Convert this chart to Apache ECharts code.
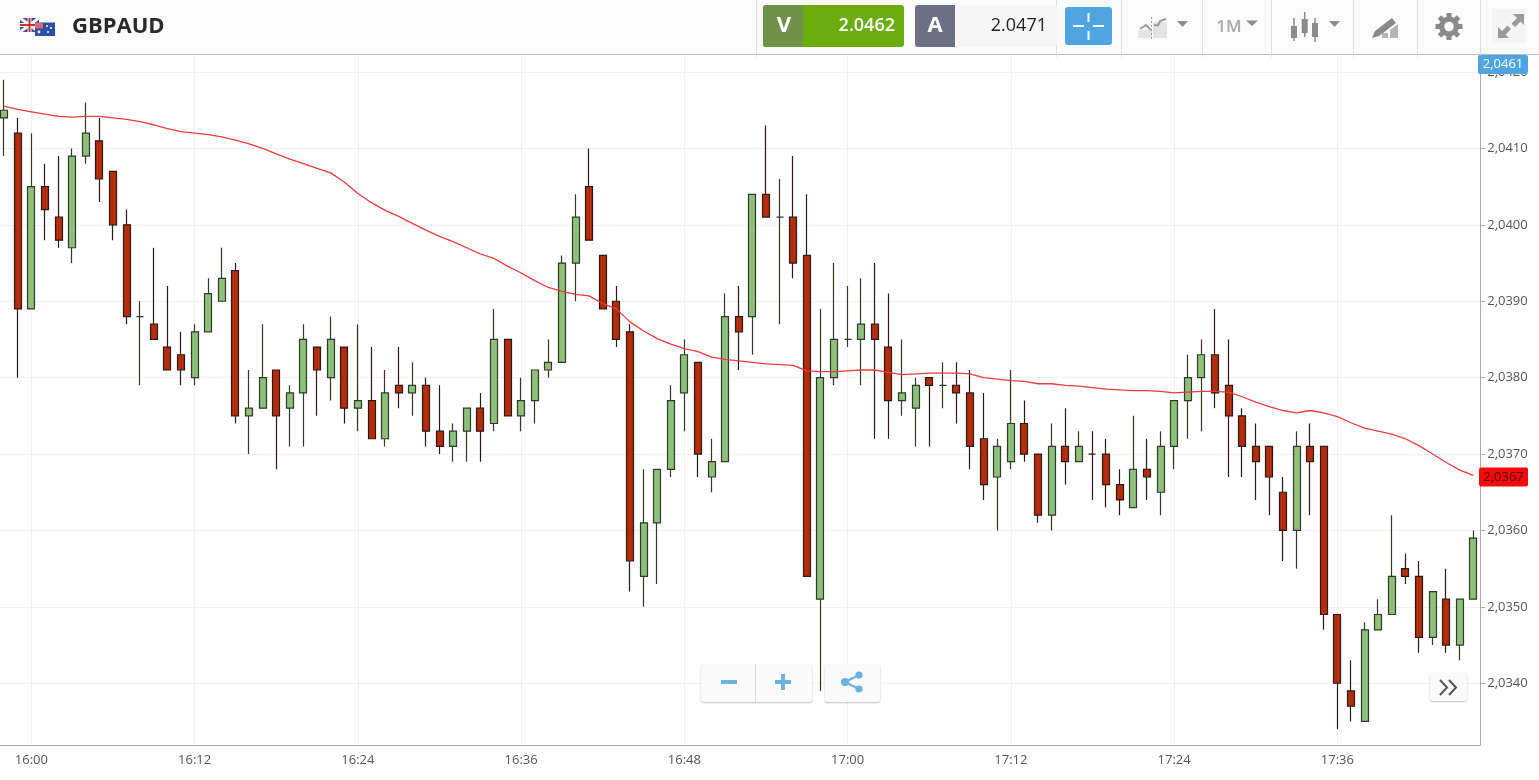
<!DOCTYPE html>
<html><head><meta charset="utf-8">
<style>html,body{margin:0;padding:0;background:#fff;overflow:hidden}#c{width:1539px;height:780px}</style>
<script src="https://cdn.jsdelivr.net/npm/echarts@6/dist/echarts.min.js"></script>
</head><body><div id="c"></div>
<script>
const categories = [
'15:58','15:59','16:00','16:01','16:02','16:03','16:04','16:05','16:06','16:07','16:08','16:09','16:10','16:11','16:12','16:13','16:14','16:15','16:16','16:17','16:18','16:19','16:20','16:21','16:22','16:23','16:24','16:25','16:26','16:27','16:28','16:29','16:30','16:31','16:32','16:33','16:34','16:35','16:36','16:37','16:38','16:39','16:40','16:41','16:42','16:43','16:44','16:45','16:46','16:47','16:48','16:49','16:50','16:51','16:52','16:53','16:54','16:55','16:56','16:57','16:58','16:59','17:00','17:01','17:02','17:03','17:04','17:05','17:06','17:07','17:08','17:09','17:10','17:11','17:12','17:13','17:14','17:15','17:16','17:17','17:18','17:19','17:20','17:21','17:22','17:23','17:24','17:25','17:26','17:27','17:28','17:29','17:30','17:31','17:32','17:33','17:34','17:35','17:36','17:37','17:38','17:39','17:40','17:41','17:42','17:43','17:44','17:45','17:46'];
const opens = [
2.0414,2.0412,2.0389,2.0405,2.0401,2.0397,2.0409,2.0411,2.0407,2.0400,
2.0388,2.0387,2.0384,2.0383,2.0380,2.0386,2.0390,2.0394,2.0375,2.0376,
2.0381,2.0376,2.0378,2.0384,2.0380,2.0384,2.0376,2.0377,2.0372,2.0379,
2.0378,2.0379,2.0373,2.0371,2.0373,2.0376,2.0374,2.0385,2.0375,2.0377,
2.0381,2.0382,2.0395,2.0405,2.0396,2.0390,2.0386,2.0354,2.0361,2.0368,
2.0378,2.0382,2.0367,2.0369,2.0388,2.0388,2.0404,2.0401,2.0401,2.0396,
2.0351,2.0380,2.0385,2.0385,2.0387,2.0384,2.0377,2.0376,2.0380,2.0379,
2.0379,2.0378,2.0372,2.0367,2.0369,2.0374,2.0370,2.0362,2.0371,2.0369,
2.0370,2.0370,2.0366,2.0363,2.0368,2.0365,2.0371,2.0377,2.0380,2.0383,
2.0379,2.0375,2.0371,2.0371,2.0365,2.0360,2.0371,2.0371,2.0349,2.0339,
2.0335,2.0347,2.0349,2.0355,2.0354,2.0346,2.0351,2.0345,2.0351];
const closes = [
2.0415,2.0389,2.0405,2.0402,2.0398,2.0409,2.0412,2.0406,2.0400,2.0388,
2.0388,2.0385,2.0381,2.0381,2.0386,2.0391,2.0393,2.0375,2.0376,2.0380,
2.0375,2.0378,2.0385,2.0381,2.0385,2.0376,2.0377,2.0372,2.0378,2.0378,
2.0379,2.0373,2.0371,2.0373,2.0376,2.0373,2.0385,2.0375,2.0377,2.0381,
2.0382,2.0395,2.0401,2.0398,2.0389,2.0385,2.0356,2.0361,2.0368,2.0377,
2.0383,2.0370,2.0369,2.0388,2.0386,2.0404,2.0401,2.0401,2.0395,2.0354,
2.0380,2.0385,2.0385,2.0387,2.0385,2.0377,2.0378,2.0379,2.0379,2.0379,
2.0378,2.0371,2.0366,2.0371,2.0374,2.0370,2.0362,2.0371,2.0369,2.0371,
2.0370,2.0366,2.0364,2.0368,2.0367,2.0371,2.0377,2.0380,2.0383,2.0378,
2.0375,2.0371,2.0369,2.0367,2.0360,2.0371,2.0369,2.0349,2.0340,2.0337,
2.0347,2.0349,2.0354,2.0354,2.0346,2.0352,2.0345,2.0351,2.0359];
const lows = [
2.0409,2.0380,2.0389,2.0398,2.0397,2.0395,2.0408,2.0403,2.0398,2.0387,
2.0379,2.0385,2.0381,2.0379,2.0379,2.0386,2.0390,2.0374,2.0370,2.0376,
2.0368,2.0371,2.0371,2.0375,2.0377,2.0374,2.0373,2.0372,2.0371,2.0376,
2.0375,2.0371,2.0370,2.0369,2.0369,2.0369,2.0373,2.0375,2.0373,2.0374,
2.0380,2.0382,2.0390,2.0398,2.0389,2.0384,2.0352,2.0350,2.0353,2.0367,
2.0373,2.0367,2.0365,2.0369,2.0381,2.0383,2.0401,2.0387,2.0393,2.0354,
2.0339,2.0379,2.0384,2.0379,2.0372,2.0372,2.0375,2.0371,2.0371,2.0376,
2.0374,2.0368,2.0364,2.0360,2.0368,2.0369,2.0361,2.0360,2.0366,2.0369,
2.0364,2.0363,2.0362,2.0363,2.0364,2.0362,2.0368,2.0372,2.0373,2.0376,
2.0367,2.0367,2.0364,2.0362,2.0356,2.0355,2.0362,2.0347,2.0334,2.0335,
2.0335,2.0347,2.0349,2.0353,2.0344,2.0345,2.0344,2.0343,2.0351];
const highs = [
2.0419,2.0414,2.0412,2.0408,2.0409,2.0410,2.0416,2.0414,2.0407,2.0402,
2.0390,2.0397,2.0392,2.0386,2.0387,2.0393,2.0397,2.0395,2.0381,2.0387,
2.0381,2.0379,2.0387,2.0384,2.0388,2.0384,2.0387,2.0384,2.0381,2.0384,
2.0382,2.0380,2.0379,2.0374,2.0376,2.0378,2.0389,2.0385,2.0380,2.0381,
2.0385,2.0396,2.0404,2.0410,2.0396,2.0392,2.0387,2.0368,2.0368,2.0379,
2.0385,2.0382,2.0372,2.0391,2.0392,2.0404,2.0413,2.0406,2.0409,2.0404,
2.0389,2.0395,2.0392,2.0393,2.0395,2.0391,2.0385,2.0380,2.0380,2.0382,
2.0382,2.0381,2.0378,2.0372,2.0381,2.0377,2.0370,2.0374,2.0376,2.0373,
2.0373,2.0372,2.0368,2.0375,2.0372,2.0373,2.0377,2.0383,2.0385,2.0389,
2.0385,2.0376,2.0374,2.0371,2.0367,2.0373,2.0374,2.0371,2.0349,2.0343,
2.0348,2.0351,2.0362,2.0357,2.0356,2.0352,2.0355,2.0351,2.0360];
const movingAverage = [
2.04155,2.04151,2.04148,2.04145,2.04142,2.04141,2.04142,2.04142,2.04140,2.04138,
2.04135,2.04131,2.04126,2.04122,2.04120,2.04118,2.04115,2.04111,2.04106,2.04100,
2.04093,2.04086,2.04080,2.04074,2.04068,2.04056,2.04041,2.04029,2.04019,2.04011,
2.04002,2.03993,2.03985,2.03978,2.03970,2.03962,2.03956,2.03946,2.03937,2.03927,
2.03918,2.03913,2.03909,2.03907,2.03897,2.03890,2.03873,2.03861,2.03851,2.03844,
2.03838,2.03834,2.03827,2.03824,2.03822,2.03820,2.03818,2.03817,2.03816,2.03809,
2.03808,2.03808,2.03809,2.03810,2.03810,2.03807,2.03804,2.03805,2.03806,2.03806,
2.03806,2.03805,2.03800,2.03798,2.03796,2.03795,2.03792,2.03792,2.03790,2.03789,
2.03787,2.03785,2.03784,2.03783,2.03783,2.03782,2.03780,2.03781,2.03782,2.03782,
2.03781,2.03775,2.03768,2.03762,2.03757,2.03754,2.03757,2.03754,2.03749,2.03741,
2.03734,2.03730,2.03726,2.03720,2.03711,2.03700,2.03689,2.03679,2.03672];
const yTicks = [2.0340,2.0350,2.0360,2.0370,2.0380,2.0390,2.0400,2.0410,2.0420];
const askPrice = '2.0471', bidPrice = '2.0462', topTag = '2,0461', lastMa = 2.0367;
const symbol = 'GBPAUD';

const candleData = categories.map((_, i) => [opens[i], closes[i], lows[i], highs[i]]);
const tickEvery = idx => (idx - 2) % 12 === 0 && idx >= 2;
const font = '"Open Sans", sans-serif';

const Z = 100;
const R = (x, y, w, h, fill, r, extra) => Object.assign({type:'rect', z:Z, silent:true, shape:{x, y, width:w, height:h, r:r||0}, style:{fill}}, extra||{});
const L = (x1, y1, x2, y2, stroke, lw, dash) => ({type:'line', z:Z, silent:true, shape:{x1, y1, x2, y2}, style:{stroke, lineWidth:lw||1, lineDash:dash||null}});
const P = (points, fill) => ({type:'polygon', z:Z, silent:true, shape:{points}, style:{fill}});
const PL = (points, stroke, lw) => ({type:'polyline', z:Z, silent:true, shape:{points}, style:{stroke, lineWidth:lw||1, fill:'none'}});
const C = (cx, cy, r, fill) => ({type:'circle', z:Z, silent:true, shape:{cx, cy, r}, style:{fill}});
const T = (x, y, text, fill, size, weight, align) => ({type:'text', z:Z+1, silent:true, x, y, style:{text, fill, font:(weight||400)+' '+size+'px '+font, textAlign:align||'left', textVerticalAlign:'middle'}});

const shadow = {shadowBlur:2, shadowColor:'rgba(0,0,0,0.25)', shadowOffsetY:1};
const btn = (x, y, w, h) => ({type:'rect', z:Z-1, silent:true, shape:{x, y, width:w, height:h, r:3}, style:Object.assign({fill:'#fafafa'}, shadow)});

const gearTeeth = [0,1,2,3,4,5,6,7].map(k => ({type:'rect', z:Z, silent:true, x:1449, y:26.5, rotation:k*Math.PI/4, shape:{x:-2.5, y:-13.5, width:5, height:6}, style:{fill:'#8a8a8a'}}));

const chrome = [
  R(0,0,1539,54,'#fbfbfb'),
  R(0,54,1539,1,'#bdbdbd'),
  ...[756,1056,1121,1202,1271,1353,1417,1480].map(x => L(x+.5,0,x+.5,57,'#dedede')),
  // flags
  R(20,18,19,14,'#3d4f8f'),
  PL([[20,18],[39,32]],'#f2f2f2',3), PL([[39,18],[20,32]],'#f2f2f2',3),
  R(27.5,18,4,14,'#f2f2f2'), R(20,23,19,4,'#f2f2f2'),
  R(28.5,18,2,14,'#c8303a'), R(20,24,19,2,'#c8303a'),
  R(35,22.5,20,13.5,'#2b4fa5'),
  R(35,22.5,8,6,'#d76a78'), C(39,32,1.4,'#fff'), C(47,26,1,'#fff'), C(51,28,1,'#fff'), C(48,32,1,'#fff'),
  T(72,27,symbol,'#2a2a2a',22,700),
  // bid
  R(763,5,141,42,'#6bad0f',3), R(763,5,40,42,'#6f9249',3), R(798,5,5,42,'#6f9249'),
  T(784,26,'V','#fff',22,700,'center'), T(895,25.5,bidPrice,'#fff',18,600,'right'),
  // ask
  R(915,5,142,42,'#f6f6f6',3), R(915,5,40,42,'#6b7086',3), R(950,5,5,42,'#6b7086'),
  T(935,26,'A','#fff',22,700,'center'), T(1047,25.5,askPrice,'#222',18,400,'right'),
  // crosshair button
  R(1065,7,47,38,'#4ea5e0',3),
  L(1073,26,1084,26,'#fff',2), L(1093,26,1104,26,'#fff',2), L(1088.5,13,1088.5,22,'#fff',2), L(1088.5,31,1088.5,40,'#fff',2),
  // chart type icon
  R(1138,30,14,8,'#e4e4e4'), R(1153,22,14,16,'#e4e4e4'),
  PL([[1140,29],[1146,25],[1151,30]],'#9a9a9a',2), PL([[1154,25],[1158,25.5],[1160,21],[1166,19]],'#9a9a9a',2),
  L(1151.5,17,1151.5,40,'#9a9a9a',1,[2,2]),
  P([[1177,21],[1188,21],[1182.5,27]],'#8d8d8d'),
  // interval
  T(1229,27,'1M','#a8a8a8',17,600,'center'),
  P([[1246,20.5],[1258,20.5],[1252,26]],'#8d8d8d'),
  // candle icon
  L(1294,18,1294,41,'#8a8a8a',1.5), R(1291,26,6,12,'#8a8a8a'),
  L(1304.7,12,1304.7,37,'#8a8a8a',1.5), R(1301.7,19,6,14,'#8a8a8a'),
  L(1315,18,1315,42,'#8a8a8a',1.5), R(1312,23,6,14,'#8a8a8a'),
  P([[1329,21],[1340,21],[1334.5,27]],'#8d8d8d'),
  // pencil icon
  P([[1375,31],[1392,18],[1396,23],[1379,36],[1372,38]],'#8a8a8a'),
  R(1382,33,6,5,'#b4b4b4'), P([[1390,38],[1390,30],[1398,24],[1398,38]],'#b4b4b4'),
  // gear
  C(1449,26.5,10,'#8a8a8a'), ...gearTeeth, C(1449,26.5,4.8,'#fbfbfb'),
  // expand
  R(1492,9,33.5,34,'#f4f4f4'),
  P([[1513,14],[1524,14],[1524,25],[1520.5,21.5],[1515,27],[1511.5,23.5],[1517,18]],'#9a9a9a'),
  P([[1498,27],[1498,38],[1509,38],[1505.5,34.5],[1511,29],[1507.5,25.5],[1502,31]],'#9a9a9a'),
  // zoom and share buttons
  btn(701,664,111,38), L(755.5,664,755.5,702,'#dcdcdc'),
  R(721,680,16,4,'#6db3e0'), R(775,680,16,4,'#6db3e0'), R(781,674,4,16,'#6db3e0'),
  btn(825,664,55,38),
  L(845,682,859,675,'#6db3e0',2.5), L(845,682,859,689,'#6db3e0',2.5),
  C(845,682,4,'#6db3e0'), C(859,675,3.6,'#6db3e0'), C(859,689,3.6,'#6db3e0'),
  // scroll button
  btn(1430,673,37,28),
  PL([[1440,680],[1447,687.5],[1440,695]],'#555',2), PL([[1449,680],[1456,687.5],[1449,695]],'#555',2),
  // last-price tag
  R(1478,55,50,19,'#4ea5e0',2), T(1503,64.5,topTag,'#fff',13,400,'center')
];

const chart = echarts.init(document.getElementById('c'), null, {renderer:'canvas'});
const option = {
  animation:false,
  backgroundColor:'#fff',
  grid:{left:-2.6, right:58.8, top:55, bottom:35, containLabel:false, outerBoundsMode:'none'},
  xAxis:{
    type:'category', data:categories, boundaryGap:true,
    axisLine:{lineStyle:{color:'#aaaaaa', width:1}},
    axisTick:{alignWithLabel:true, interval:tickEvery, length:5, lineStyle:{color:'#aaaaaa'}},
    axisLabel:{interval:tickEvery, color:'#555', fontFamily:font, fontSize:13, margin:9},
    splitLine:{show:true, alignWithLabel:true, interval:tickEvery, lineStyle:{color:'#f1f1f1'}}
  },
  yAxis:{
    type:'value', position:'right', scale:true, min:2.033192, max:2.042223,
    axisLine:{show:true, lineStyle:{color:'#aaaaaa', width:1}},
    axisTick:{show:true, length:5, customValues:yTicks, lineStyle:{color:'#aaaaaa'}},
    axisLabel:{customValues:yTicks, color:'#555', fontFamily:font, fontSize:13, margin:7,
      formatter:v => v.toFixed(4).replace('.', ',')},
    splitLine:{show:true, lineStyle:{color:'#f1f1f1'}}
  },
  series:[
    {type:'candlestick', data:candleData, barWidth:7.5, clip:true,
     itemStyle:{color:'#8dc07a', color0:'#b52c0c', borderColor:'#2f3a2a', borderColor0:'#2a1a14', borderWidth:1.2}},
    {type:'line', data:movingAverage, showSymbol:false, symbol:'none', smooth:false, z:5,
     lineStyle:{color:'#ec3b3f', width:1.3}}
  ],
  graphic:{elements:chrome}
};
chart.setOption(option);
const yLast = chart.convertToPixel({yAxisIndex:0}, lastMa);
chart.setOption({graphic:{elements:chrome.concat([
  R(1479,yLast-9.5,49,19,'#f40a0a',2),
  T(1503.5,yLast,lastMa.toFixed(4).replace('.', ','),'#4a0a0a',13,400,'center')
])}});
</script></body></html>
